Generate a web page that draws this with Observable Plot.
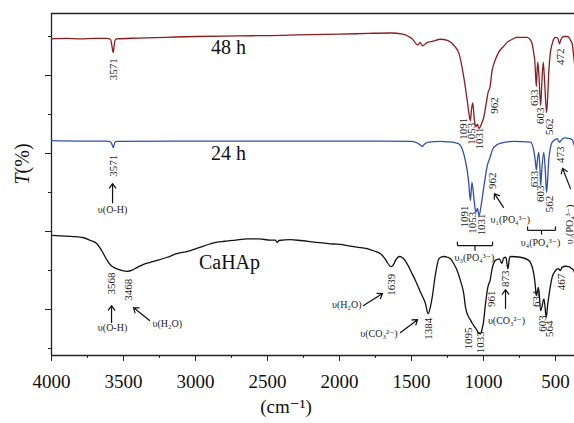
<!DOCTYPE html>
<html><head><meta charset="utf-8">
<script src="https://cdn.jsdelivr.net/npm/d3@7"></script>
<script src="https://cdn.jsdelivr.net/npm/@observablehq/plot@0.6"></script>
<style>body{margin:0;background:#fff} svg{display:block}</style>
</head><body><div id="chart"></div>
<script>
// ---- spectra (wavenumber cm^-1, transmittance in arbitrary offset units) ----
const wn48 = [4000,3900,3800,3700,3620,3590,3580,3571,3562,3550,3400,3200,3000,2800,2600,2400,2200,2000,1800,1650,1560,1520,1490,1470,1456,1440,1425,1410,1390,1350,1300,1250,1200,1170,1137,1113,1100,1091,1084,1075,1063,1053,1042,1031,1015,998,985,974,966,962,955,940,920,894,860,835,800,766,697,675,662,650,644,638,633,628,623,615,603,595,585,575,562,555,546,535,523,510,500,485,472,462,442,420,408,395,384,373,368];
const t48  = [79.4,79.5,79.4,79.5,79.5,79.3,77.5,75.9,78.5,79.4,79.6,79.8,80.0,80.1,80.2,80.3,80.5,80.6,80.8,80.9,80.6,80.0,79.2,78.2,77.8,78.5,77.6,77.9,78.5,78.8,79.3,79.0,77.5,75.6,69.6,63.6,60.0,58.4,61.0,63.0,58.5,56.9,57.5,56.4,57.5,59.3,62.0,64.4,66.0,66.2,67.0,71.3,73.8,76.0,77.5,78.5,79.3,79.8,79.8,79.2,78.1,75.5,73.8,70.0,67.2,71.0,73.4,70.0,62.3,68.0,73.4,68.0,60.5,64.0,71.3,76.0,78.1,79.5,79.8,79.6,78.1,79.3,80.0,80.0,79.8,79.0,78.1,74.7,73.0];

const wn24 = [4000,3800,3620,3590,3580,3571,3562,3550,3000,2500,2000,1700,1500,1460,1440,1425,1410,1380,1300,1250,1200,1172,1137,1113,1102,1091,1080,1065,1053,1042,1031,1015,998,985,974,962,950,940,905,850,790,674,651,640,633,625,616,608,603,595,581,570,562,555,547,535,523,500,488,473,465,450,437,410,396,380,373,368];
const t24  = [53.3,53.2,53.2,53.0,52.3,51.5,52.7,53.1,53.2,53.2,53.2,53.2,53.1,52.7,52.2,51.8,52.4,52.9,53.1,53.0,52.8,52.5,49.9,45.6,42.3,37.9,42.6,38.0,34.9,35.9,34.1,37.0,41.4,44.5,46.9,48.2,49.5,50.8,52.3,52.9,53.1,52.9,50.8,48.0,45.8,48.5,50.3,46.0,41.8,46.0,50.3,45.0,40.0,43.0,48.2,51.5,52.9,53.6,53.8,52.9,53.2,53.8,54.0,53.9,53.8,53.3,52.5,52.0];

const wnCa = [4000,3900,3776,3729,3683,3650,3613,3590,3567,3530,3500,3474,3440,3405,3360,3313,3266,3197,3130,3081,3035,2965,2900,2873,2800,2700,2641,2560,2480,2445,2433,2420,2340,2271,2178,2040,1993,1947,1880,1808,1760,1715,1680,1669,1641,1625,1611,1581,1560,1530,1500,1472,1437,1403,1384,1370,1356,1333,1310,1290,1275,1250,1229,1206,1183,1160,1137,1125,1102,1095,1080,1060,1044,1033,1021,1010,1002,986,970,961,956,940,917,890,873,860,845,830,820,812,743,685,651,640,634,618,603,580,564,555,547,523,500,480,467,454,430,408,390,373,368];
const tCa  = [29.0,28.8,28.4,27.7,26.8,25.0,22.6,21.4,20.8,20.2,19.9,19.8,20.1,20.8,21.6,22.1,22.6,23.4,24.3,24.7,25.1,26.0,26.8,27.1,27.5,27.9,28.1,28.1,27.8,27.8,27.2,27.7,27.9,27.7,27.3,26.8,26.7,26.4,26.0,25.6,25.0,24.3,22.8,22.1,21.0,21.5,22.6,23.6,23.2,21.7,19.5,17.4,14.4,11.5,8.9,10.5,13.2,19.2,23.0,23.5,23.6,23.4,23.0,21.7,20.0,17.4,14.0,10.6,8.0,7.6,6.6,5.5,4.6,3.8,3.8,5.0,6.3,11.5,15.7,16.8,17.2,20.5,22.6,23.0,21.8,23.2,23.4,20.4,23.2,23.6,23.4,22.6,19.2,16.0,13.6,15.7,9.7,12.7,8.0,11.0,13.2,18.3,20.0,20.5,20.0,20.8,21.1,21.0,20.6,20.0,19.5];

// ---- series names ----
const seriesNames = ["48 h", "24 h", "CaHAp"];
const seriesColors = ["#8b1c1f", "#2f4fae", "#111111"];
const seriesLabelWn = [2771, 2771, 2764];
const seriesLabelT = [77.2, 50.0, 22.1];

// ---- peak labels (rotated) ----
const peakText = ["3571","1091","1053","1031","962","633","603","562","472",
                  "3571","1091","1053","1031","962","633","603","562","473",
                  "3568","3468","1639","1384","1095","1033","961","873","634","603","564","467"];
const peakWn = [3573,1139,1083,1028,924,649,601,542,465,
                3573,1135,1076,1017,941,649,601,545,465,
                3587,3465,1639,1382,1104,1021,944,847,632,590,542,458];
const peakT = [74.4,59.2,57.9,56.7,64.4,66.4,61.8,59.0,76.9,
               49.7,36.7,35.1,34.6,45.1,45.6,41.8,39.2,51.8,
               19.5,17.9,19.2,7.9,5.4,4.4,14.9,20.0,14.9,8.5,7.2,19.2];

// ---- vibration mode labels ----
const modeText = ["υ(O-H)","υ₁(PO₄³⁻)","υ₃(PO₄³⁻)","υ₄(PO₄³⁻)","υ(O-H)","υ(H₂O)","υ(H₂O)","υ(CO₃²⁻)","υ(CO₃²⁻)"];
const modeAnchor = ["middle","start","middle","middle","middle","start","end","end","middle"];
const modeWn = [3576, 951, 1063, 604, 3576, 3299, 1847, 1597, 840];
const modeT = [35.6, 33.1, 23.3, 27.2, 5.4, 6.4, 11.3, 3.8, 7.2];
const rotModeText = ["υ₂(PO₄³⁻)"];
const rotModeWn = [403];
const rotModeT = [31.8];

// ---- arrows ----
const arrowWn1 = [3576, 861, 396, 3583, 3319, 1833, 1576, 847];
const arrowT1  = [37.4, 36.2, 41.0, 6.7, 7.2, 11.0, 4.1, 10.3];
const arrowWn2 = [3576, 924, 451, 3583, 3431, 1701, 1458, 847];
const arrowT2  = [42.3, 39.7, 46.2, 11.0, 10.5, 14.1, 7.4, 15.1];

// ---- brackets (v3 and v4 phosphate groups) ----
const bracketWnA = [1181, 694];
const bracketWnB = [937, 500];
const bracketWnMid = [1059, 597];
const bracketT = [26.4, 30.3];
const bracketTipT = [27.4, 31.3];
const bracketStemT = [25.1, 29.2];

// ---- axes ----
const xMajor = [4000,3500,3000,2500,2000,1500,1000,500];
const xMinor = [3750,3250,2750,2250,1750,1250,750];
const yMajor = [10,30,50,70];
const yMinor = [0,20,40,60,80];
const xDomain = [4000, 368];
const yDomain = [-1.79, 85.9];

const rows = (w, t) => w.map((x, i) => ({wn: x, t: t[i]}));
const spectra = [rows(wn48, t48), rows(wn24, t24), rows(wnCa, tCa)];
const peaks = peakText.map((s, i) => ({s, wn: peakWn[i], t: peakT[i]}));
const modes = modeText.map((s, i) => ({s, a: modeAnchor[i], wn: modeWn[i], t: modeT[i]}));
const rotModes = rotModeText.map((s, i) => ({s, wn: rotModeWn[i], t: rotModeT[i]}));
const arrows = arrowWn1.map((w, i) => ({x1: w, y1: arrowT1[i], x2: arrowWn2[i], y2: arrowT2[i]}));
const bracketSegs = [];
bracketWnA.forEach((a, i) => {
  const b = bracketWnB[i], m = bracketWnMid[i], y = bracketT[i], tip = bracketTipT[i], st = bracketStemT[i];
  bracketSegs.push({x1: a, y1: tip, x2: a, y2: y}, {x1: a, y1: y, x2: b, y2: y},
                   {x1: b, y1: y, x2: b, y2: tip}, {x1: m, y1: y, x2: m, y2: st});
});
const seriesLabels = seriesNames.map((s, i) => ({s, wn: seriesLabelWn[i], t: seriesLabelT[i]}));

const serif = "'Liberation Serif', 'DejaVu Serif', serif";
const axisColor = "#222";

const marks = [
  Plot.ruleY([yDomain[1]], {stroke: axisColor, strokeWidth: 1.3}),
  Plot.ruleY([yDomain[0]], {stroke: axisColor, strokeWidth: 1.3}),
  Plot.ruleX([xDomain[0]], {stroke: axisColor, strokeWidth: 1.3}),
  Plot.axisX({ticks: xMajor, tickSize: 6, tickPadding: 13, tickFormat: d => String(d), label: null, stroke: axisColor}),
  Plot.axisX({ticks: xMinor, tickSize: 3, tickFormat: () => "", label: null, stroke: axisColor}),
  Plot.axisY({ticks: yMajor, tickSize: 6, tickFormat: () => "", label: null, stroke: axisColor}),
  Plot.axisY({ticks: yMinor, tickSize: 3, tickFormat: () => "", label: null, stroke: axisColor}),
  ...spectra.map((d, i) => Plot.line(d, {x: "wn", y: "t", stroke: seriesColors[i], strokeWidth: 1.3, curve: "monotone-x"})),
  Plot.text(seriesLabels, {x: "wn", y: "t", text: "s", fontSize: 20, fill: "#111"}),
  Plot.text(peaks, {x: "wn", y: "t", text: "s", rotate: -90, textAnchor: "end", fontSize: 11, fill: "#222"}),
  ...["start", "middle", "end"].map(a => Plot.text(modes.filter(m => m.a === a), {x: "wn", y: "t", text: "s", textAnchor: a, fontSize: 10, fill: "#222"})),
  Plot.text(rotModes, {x: "wn", y: "t", text: "s", rotate: -90, fontSize: 10, fill: "#222"}),
  Plot.arrow(arrows, {x1: "x1", y1: "y1", x2: "x2", y2: "y2", stroke: "#111", strokeWidth: 1.2, headLength: 7, headAngle: 70}),
  Plot.link(bracketSegs, {x1: "x1", y1: "y1", x2: "x2", y2: "y2", stroke: "#111", strokeWidth: 1.2}),
  Plot.text(["T(%)"], {frameAnchor: "left", dx: -29, rotate: -90, fontSize: 20, fill: "#111"}),
  Plot.text(["(cm⁻¹)"], {frameAnchor: "bottom", dx: -27, dy: 57, fontSize: 19, fill: "#111"})
];

const chart = Plot.plot({
  width: 574, height: 423,
  marginLeft: 51, marginRight: 0, marginTop: 13, marginBottom: 68,
  style: {fontFamily: serif, fontSize: "19px", color: "#111", background: "#fff"},
  x: {domain: xDomain, axis: null},
  y: {domain: yDomain, axis: null},
  marks
});

// italic T in the y title
d3.select(chart).selectAll("text").each(function() {
  const t = d3.select(this);
  if (t.text() === "T(%)") {
    t.text("");
    t.append("tspan").attr("font-style", "italic").text("T");
    t.append("tspan").text("(%)");
  }
});
document.getElementById("chart").appendChild(chart);
</script>
</body></html>
